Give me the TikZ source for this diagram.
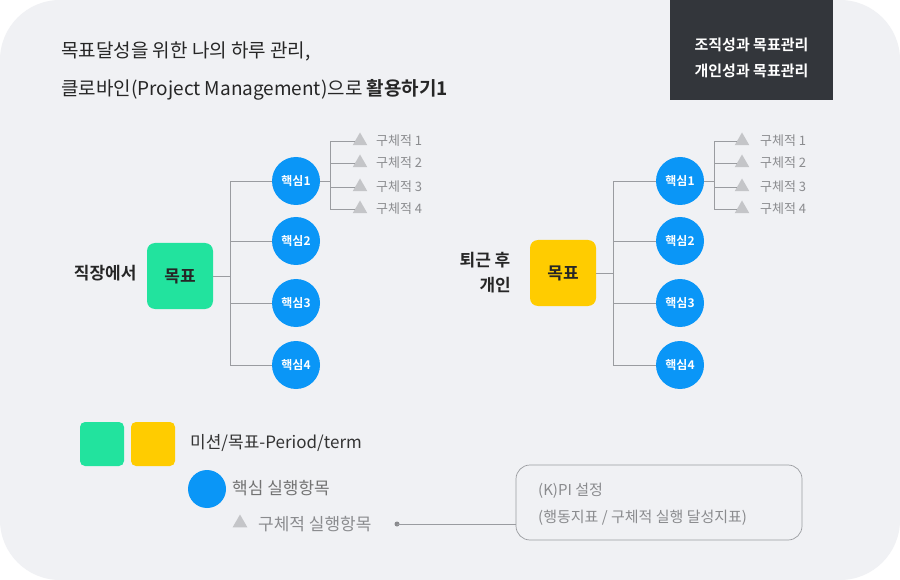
\documentclass[tikz,border=0pt]{standalone}
\usepackage{fontspec}
\usetikzlibrary{shapes.geometric}
\setmainfont{Noto Sans CJK KR}
\newfontfamily\kb{Noto Sans CJK KR Bold}
\definecolor{bg}{HTML}{F0F1F4}
\definecolor{dk}{HTML}{33363B}
\definecolor{grn}{HTML}{22E39E}
\definecolor{ylw}{HTML}{FFCC00}
\definecolor{blu}{HTML}{0A96F7}
\definecolor{tri}{HTML}{C4C5C8}
\definecolor{gtx}{HTML}{8A8B8E}
\definecolor{ln}{HTML}{9A9CA0}
\begin{document}
\begin{tikzpicture}[x=1pt,y=-1pt,
 core/.style={circle,fill=blu,minimum size=48pt,inner sep=0pt,text=white,font=\kb\fontsize{12}{14}\selectfont},
 goal/.style={rounded corners=8pt,minimum size=66pt,inner sep=0pt,font=\kb\fontsize{17}{20}\selectfont,text=black!85},
 trin/.style={regular polygon,regular polygon sides=3,fill=tri,minimum size=17pt,inner sep=0pt},
 sub/.style={anchor=west,text=gtx,font=\fontsize{13}{15}\selectfont,inner sep=0pt},
 ln/.style={draw=ln,line width=0.7pt}]
\useasboundingbox (0,0) rectangle (900,580);
\fill[white] (0,0) rectangle (900,580);
\fill[bg,rounded corners=60pt] (0,0) rectangle (900,580);
\fill[dk] (670,0) rectangle (833,100);
\node[text=white,font=\kb\fontsize{15}{26}\selectfont,align=center] (tag) at (751.5,58) {조직성과 목표관리\\개인성과 목표관리};
\node[anchor=west,align=left,font=\fontsize{19}{38}\selectfont,text=black!85,inner sep=0pt] (title) at (61,71)
 {목표달성을 위한 나의 하루 관리,\\클로바인(Project Management)으로 {\kb 활용하기1}};
% left tree
\node[goal,fill=grn] (g1) at (180,276) {목표};
\node[anchor=east,font=\kb\fontsize{17}{20}\selectfont,text=black!85] (l1) at (140,273) {직장에서};
\foreach \i/\y in {1/181,2/241,3/303,4/365}{\node[core] (a\i) at (296,\y) {핵심\i};}
\coordinate (ja) at (230,276);
\draw[ln] (g1.east) -- (ja);
\draw[ln] (a1.west) -| (230,181) -- (230,365) -- (a4.west);
\draw[ln] (a2.west) -- (230,241) (a3.west) -- (230,303);
\foreach \i/\y in {1/141,2/163,3/187,4/209}{
 \node[trin] (ta\i) at (360,\y) {};
 \node[sub] (sa\i) at (376,\y) {구체적 \i};}
\draw[ln] (a1.east) -- (330,181);
\draw[ln] (ta1.west) -| (330,141) -- (330,209) -- (ta4.west);
\draw[ln] (ta2.west) -- (330,163) (ta3.west) -- (330,187);
% right tree
\node[goal,fill=ylw] (g2) at (563,273) {목표};
\node[align=center,font=\kb\fontsize{17}{25}\selectfont,text=black!85] (l2) at (485,273) {퇴근 후\\\hspace*{1.2em}개인};
\foreach \i/\y in {1/181,2/241,3/303,4/365}{\node[core] (b\i) at (680,\y) {핵심\i};}
\draw[ln] (g2.east) -- (613,273);
\draw[ln] (b1.west) -| (613,181) -- (613,365) -- (b4.west);
\draw[ln] (b2.west) -- (613,241) (b3.west) -- (613,303);
\foreach \i/\y in {1/141,2/163,3/187,4/209}{
 \node[trin] (tb\i) at (742,\y) {};
 \node[sub] (sb\i) at (760,\y) {구체적 \i};}
\draw[ln] (b1.east) -- (714,181);
\draw[ln] (tb1.west) -| (714,141) -- (714,209) -- (tb4.west);
\draw[ln] (tb2.west) -- (714,163) (tb3.west) -- (714,187);
% legend
\node[fill=grn,rounded corners=5pt,minimum size=44pt,inner sep=0pt] (lg) at (102,444) {};
\node[fill=ylw,rounded corners=5pt,minimum size=44pt,inner sep=0pt] (ly) at (153,444) {};
\node[anchor=west,inner sep=0pt,font=\fontsize{17}{20}\selectfont,text=black!80] (lt1) at (190,443) {미션/목표-Period/term};
\node[circle,fill=blu,minimum size=38pt,inner sep=0pt] (lc) at (207,489) {};
\node[anchor=west,inner sep=0pt,font=\fontsize{17}{20}\selectfont,text=black!55] (lt2) at (232,488) {핵심 실행항목};
\node[trin] (lT) at (240,523) {};
\node[anchor=west,inner sep=0pt,font=\fontsize{17}{20}\selectfont,text=gtx] (lt3) at (258,524) {구체적 실행항목};
\coordinate (dot) at (397,524);
\fill[gtx] (dot) circle (2.5pt);
\node[draw=ln,line width=0.7pt,rounded corners=14pt,minimum width=286pt,minimum height=75pt,inner sep=0pt] (kpi) at (659,502.5) {};
\node[anchor=west,align=left,inner sep=0pt,font=\fontsize{15}{27}\selectfont,text=gtx] (kt) at (538,504) {(K)PI 설정\\(행동지표 / 구체적 실행 달성지표)};
\draw[ln] (dot) -- (kpi.west |- dot);
\end{tikzpicture}
\end{document}
